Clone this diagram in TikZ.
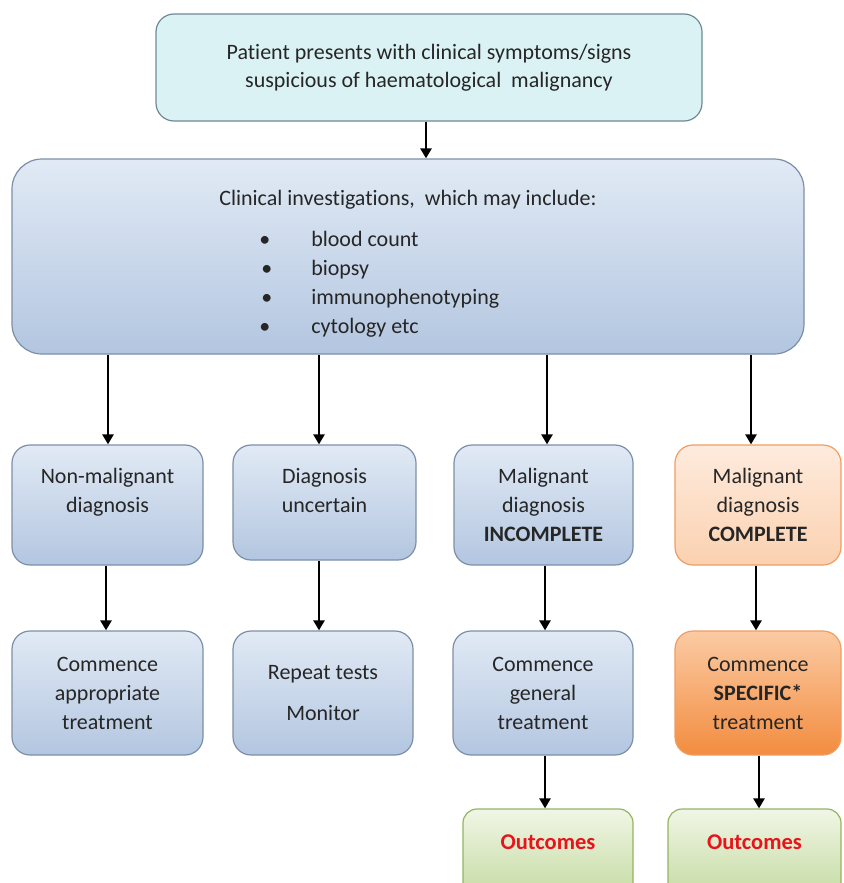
\documentclass[tikz,border=0pt]{standalone}
\usepackage{fontspec}
\setmainfont{Carlito}[Ligatures=NoCommon]
\usetikzlibrary{arrows.meta}
\definecolor{textgray}{HTML}{262626}
\definecolor{blueline}{HTML}{7C8FA8}
\definecolor{bluetop}{HTML}{E1EAF5}
\definecolor{bluebot}{HTML}{B3C6E0}
\definecolor{cyanfill}{HTML}{DBF2F4}
\definecolor{cyanline}{HTML}{6F8A96}
\definecolor{peachtop}{HTML}{FEEBDD}
\definecolor{peachbot}{HTML}{FBD1B0}
\definecolor{orangeline}{HTML}{EE9E64}
\definecolor{orangetop}{HTML}{FBCBA3}
\definecolor{orangebot}{HTML}{F38C40}
\definecolor{greentop}{HTML}{F0F6E6}
\definecolor{greenbot}{HTML}{C4DAA0}
\definecolor{greenline}{HTML}{92B562}
\definecolor{outred}{HTML}{E8141B}

\begin{document}
\begin{tikzpicture}[x=1pt, y=-1pt, font=\fontsize{22}{29}\selectfont]
        \tikzstyle{box}=[draw=blueline, line width=1.2pt, rounded corners=18pt, align=center, text=textgray, top color=bluetop, bottom color=bluebot, inner sep=0pt]
        \tikzstyle{startbox}=[box, draw=cyanline, top color=cyanfill, bottom color=cyanfill, font=\fontsize{22}{28}\selectfont]
        \tikzstyle{peach}=[box, draw=orangeline, top color=peachtop, bottom color=peachbot]
        \tikzstyle{orange}=[box, draw=orangeline, top color=orangetop, bottom color=orangebot]
        \tikzstyle{outcome}=[box, rounded corners=14pt, draw=greenline, top color=greentop, bottom color=greenbot, text=outred, font=\fontsize{22.5}{29}\selectfont\bfseries]
        \tikzstyle{link}=[line width=2.5pt, -{Triangle[length=10pt,width=11pt]}]

        \useasboundingbox (0,0) rectangle (843,883);

        \node[startbox, minimum width=546pt, minimum height=107pt] (P) at (429,67.5) {Patient presents with clinical symptoms/signs\\suspicious of haematological\ \ malignancy};
        \node[box, rounded corners=30pt, minimum width=792pt, minimum height=195pt, align=left] (inv) at (408,256.5)
            {\mbox{}\\[0pt]
             Clinical investigations,\ \ which may include:\\[12pt]
             \hspace*{40pt}\makebox[52pt][l]{\textbullet}blood count\\
             \hspace*{42pt}\makebox[50pt][l]{\textbullet}biopsy\\
             \hspace*{42pt}\makebox[50pt][l]{\textbullet}immunophenotyping\\
             \hspace*{40pt}\makebox[52pt][l]{\textbullet}cytology etc};

        \node[box, minimum width=191pt, minimum height=120pt] (D_1) at (107.5,505) {Non-malignant\\diagnosis\\\mbox{}};
        \node[box, minimum width=183pt, minimum height=115pt] (D_2) at (324.5,502.5) {Diagnosis\\uncertain\\[-5pt]\mbox{}};
        \node[box, minimum width=179pt, minimum height=120pt] (D_3) at (543.5,505) {Malignant\\diagnosis\\\textbf{INCOMPLETE}};
        \node[peach, minimum width=166pt, minimum height=120pt] (D_4) at (758,505) {Malignant\\diagnosis\\\textbf{COMPLETE}};

        \node[box, minimum width=191pt, minimum height=124pt] (T_1) at (107.5,693) {Commence\\appropriate\\treatment};
        \node[box, minimum width=180pt, minimum height=124pt] (T_2) at (323,693) {Repeat tests\\[12pt]Monitor};
        \node[box, minimum width=180pt, minimum height=124pt] (T_3) at (543,693) {Commence\\general\\treatment};
        \node[orange, minimum width=166pt, minimum height=124pt] (T_4) at (758,693) {Commence\\\textbf{SPECIFIC*}\\treatment};

        \node[outcome, minimum width=170pt, minimum height=90pt] (O_3) at (548,854) {Outcomes\\[-5pt]\mbox{}};
        \node[outcome, minimum width=173pt, minimum height=90pt] (O_4) at (754.5,854) {Outcomes\\[-5pt]\mbox{}};

        \draw[link] (P.south -| 426,0) -- (inv.north -| 426,0);
        \draw[link] (inv.south -| 108,0) -- (D_1.north -| 108,0);
        \draw[link] (inv.south -| 319,0) -- (D_2.north -| 319,0);
        \draw[link] (inv.south -| 547,0) -- (D_3.north -| 547,0);
        \draw[link] (inv.south -| 751,0) -- (D_4.north -| 751,0);
        \draw[link] (D_1.south -| 106,0) -- (T_1.north -| 106,0);
        \draw[link] (D_2.south -| 319,0) -- (T_2.north -| 319,0);
        \draw[link] (D_3.south -| 545,0) -- (T_3.north -| 545,0);
        \draw[link] (D_4.south -| 756,0) -- (T_4.north -| 756,0);
        \draw[link] (T_3.south -| 545,0) -- (O_3.north -| 545,0);
        \draw[link] (T_4.south -| 759,0) -- (O_4.north -| 759,0);
\end{tikzpicture}
\end{document}
